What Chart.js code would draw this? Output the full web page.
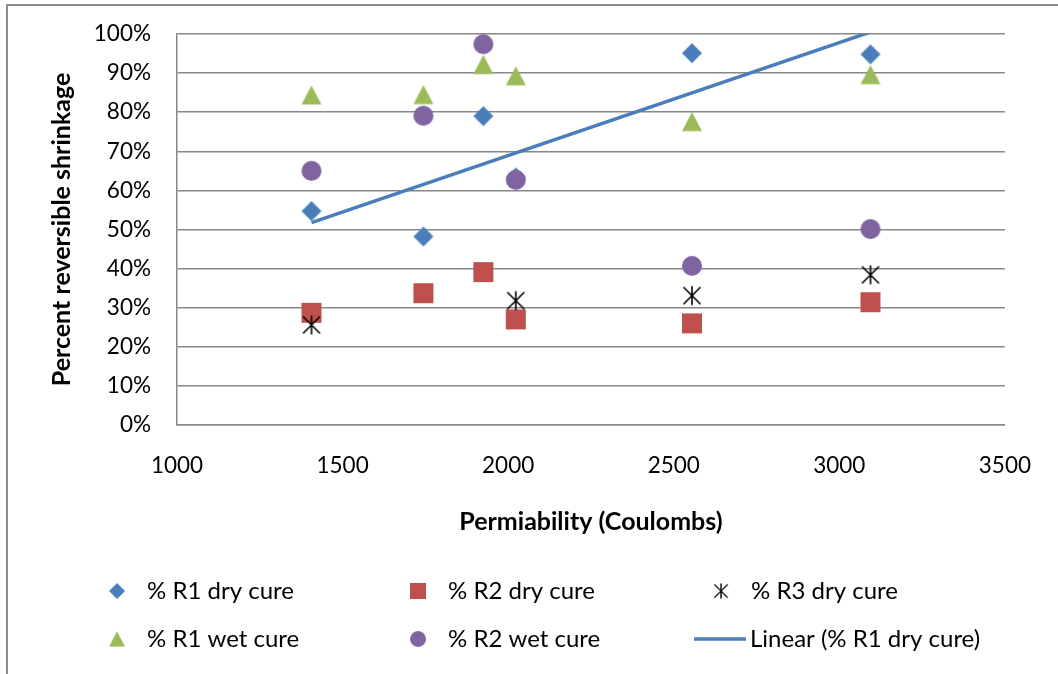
<!DOCTYPE html>
<html>
<head>
<meta charset="utf-8">
<script src="https://cdn.jsdelivr.net/npm/chart.js@4.4.1/dist/chart.umd.min.js"></script>
<style>
  html, body { margin: 0; padding: 0; background: #fff; }
  #wrap { position: relative; width: 1058px; height: 674px; overflow: hidden; }
  #frame { position: absolute; left: 6px; top: 4px; width: 1200px; height: 800px; border: 2px solid #8c8c8c; }
  #grafico { position: absolute; left: 0; top: 0; }
</style>
</head>
<body>
<div id="wrap">
  <div id="frame"></div>
  <canvas id="grafico" width="1058" height="674"></canvas>
</div>
<script>
// permeability (coulombs) of each mix
const permeabilidade = [1406, 1744, 1925, 2023, 2555, 3094]
const permR3 = [1406, 2023, 2555, 3094]

// percent reversible shrinkage per mix
const r1Seco = [54.7, 48.2, 79.0, 63.3, 95.1, 94.8]
const r2Seco = [28.7, 33.7, 39.1, 27.0, 26.0, 31.4]
const r3Seco = [25.6, 31.8, 33.1, 38.4]
const r1Umido = [84.4, 84.5, 92.2, 89.3, 77.6, 89.6]
const r2Umido = [65.0, 79.1, 97.4, 62.7, 40.7, 50.1]

const rotulos = ["% R1 dry cure", "% R2 dry cure", "% R3 dry cure", "% R1 wet cure", "% R2 wet cure", "Linear (% R1 dry cure)"]
const xTicks = [1000, 1500, 2000, 2500, 3000, 3500]
const yTicks = [0, 10, 20, 30, 40, 50, 60, 70, 80, 90, 100]

const AZUL = "#4a7ebb"
const VERMELHO = "#c0504d"
const VERDE = "#9bbb59"
const ROXO = "#8064a2"

// markers drawn once into small canvases, used as pointStyle
function marcador(forma, cor) {
  const c = document.createElement("canvas")
  c.width = 24
  c.height = 24
  const g = c.getContext("2d")
  const m = 12
  g.fillStyle = cor
  g.strokeStyle = cor
  g.beginPath()
  if (forma === "losango") {
    g.moveTo(m, m - 10)
    g.lineTo(m + 10, m)
    g.lineTo(m, m + 10)
    g.lineTo(m - 10, m)
    g.closePath()
    g.fill()
  } else if (forma === "quadrado") {
    g.rect(m - 10, m - 10, 20, 20)
    g.fill()
  } else if (forma === "triangulo") {
    g.moveTo(m, m - 9.5)
    g.lineTo(m + 10, m + 9.5)
    g.lineTo(m - 10, m + 9.5)
    g.closePath()
    g.fill()
  } else if (forma === "circulo") {
    g.arc(m, m, 10, 0, Math.PI * 2)
    g.fill()
  } else {
    g.lineWidth = 1.6
    g.moveTo(m - 8.5, m - 8.5)
    g.lineTo(m + 8.5, m + 8.5)
    g.moveTo(m + 8.5, m - 8.5)
    g.lineTo(m - 8.5, m + 8.5)
    g.moveTo(m, m - 9.5)
    g.lineTo(m, m + 9.5)
    g.stroke()
  }
  return c
}

function pontos(xs, ys) {
  return ys.map((y, i) => ({ x: xs[i], y: y }))
}

// least squares line over the R1 dry cure points
function tendencia(xs, ys) {
  const n = xs.length
  const mx = xs.reduce((a, b) => a + b, 0) / n
  const my = ys.reduce((a, b) => a + b, 0) / n
  let sxy = 0
  let sxx = 0
  xs.forEach((x, i) => {
    sxy += (x - mx) * (ys[i] - my)
    sxx += (x - mx) * (x - mx)
  })
  const b = sxy / sxx
  const a = my - b * mx
  const x0 = Math.min(...xs)
  const x1 = Math.max(...xs)
  return [{ x: x0, y: a + b * x0 }, { x: x1, y: a + b * x1 }]
}

// legend in a fixed 3 x 2 grid under the x axis
const legendaGrade = {
  id: "legendaGrade",
  afterDraw(chart) {
    const c = chart.ctx
    const posicoes = [[117, 591], [418, 591], [721, 591], [117, 639], [418, 639], [721, 639]]
    c.save()
    c.font = "24px Lato"
    c.fillStyle = "#000"
    c.textBaseline = "middle"
    chart.data.datasets.forEach((ds, i) => {
      const [x, y] = posicoes[i]
      let xTexto = x + 30
      if (ds.type === "line") {
        c.strokeStyle = ds.borderColor
        c.lineWidth = 3.5
        c.beginPath()
        c.moveTo(x - 27, y)
        c.lineTo(x + 25, y)
        c.stroke()
        xTexto = x + 29
      } else {
        const img = ds.pointStyle
        const s = 0.8
        c.drawImage(img, x - img.width * s / 2, y - img.height * s / 2, img.width * s, img.height * s)
      }
      c.fillText(ds.label, xTexto, y)
    })
    c.restore()
  }
}

const grade = "#878787"

new Chart(document.getElementById("grafico").getContext("2d"), {
  type: "scatter",
  data: {
    datasets: [
      { label: rotulos[0], data: pontos(permeabilidade, r1Seco), pointStyle: marcador("losango", AZUL), pointRadius: 10, order: 6 },
      { label: rotulos[1], data: pontos(permeabilidade, r2Seco), pointStyle: marcador("quadrado", VERMELHO), pointRadius: 10, order: 5 },
      { label: rotulos[2], data: pontos(permR3, r3Seco), pointStyle: marcador("asterisco", "#000"), pointRadius: 10, order: 4 },
      { label: rotulos[3], data: pontos(permeabilidade, r1Umido), pointStyle: marcador("triangulo", VERDE), pointRadius: 10, order: 3 },
      { label: rotulos[4], data: pontos(permeabilidade, r2Umido), pointStyle: marcador("circulo", ROXO), pointRadius: 10, order: 2 },
      {
        type: "line",
        label: rotulos[5],
        data: tendencia(permeabilidade, r1Seco),
        borderColor: AZUL,
        borderWidth: 3.5,
        pointRadius: 0,
        fill: false,
        order: 1
      }
    ]
  },
  options: {
    responsive: false,
    animation: false,
    layout: { padding: { left: 0, top: 34, right: 51, bottom: 119 } },
    plugins: { legend: { display: false }, tooltip: { enabled: false } },
    scales: {
      x: {
        type: "linear",
        min: 1000,
        max: 3500,
        afterFit: (s) => { s.height = 130 },
        afterBuildTicks: (s) => { s.ticks = xTicks.map((v) => ({ value: v })) },
        grid: { display: false, drawTicks: false },
        border: { display: true, color: grade, width: 1.5 },
        ticks: { padding: 27, color: "#000", font: { family: "Lato", size: 22.5 }, callback: (v) => String(v) },
        title: {
          display: true,
          text: "Permiability (Coulombs)",
          color: "#000",
          font: { family: "Lato", size: 25, weight: "bold" },
          padding: { top: 0, bottom: 18 }
        }
      },
      y: {
        min: 0,
        max: 100,
        afterFit: (s) => { s.width = 177 },
        afterBuildTicks: (s) => { s.ticks = yTicks.map((v) => ({ value: v })) },
        // the gap before the labels comes from invisible tick marks
        grid: { color: grade, lineWidth: 1.5, drawTicks: true, tickLength: 26, tickColor: "rgba(0,0,0,0)" },
        border: { display: true, color: grade, width: 1.5 },
        ticks: { padding: 0, color: "#000", font: { family: "Lato", size: 22.5 }, callback: (v) => v + "%" },
        title: {
          display: true,
          text: "Percent reversible shrinkage",
          color: "#000",
          font: { family: "Lato", size: 25, weight: "bold" },
          padding: { top: 47, bottom: 0 }
        }
      }
    }
  },
  plugins: [legendaGrade]
})
</script>
</body>
</html>
